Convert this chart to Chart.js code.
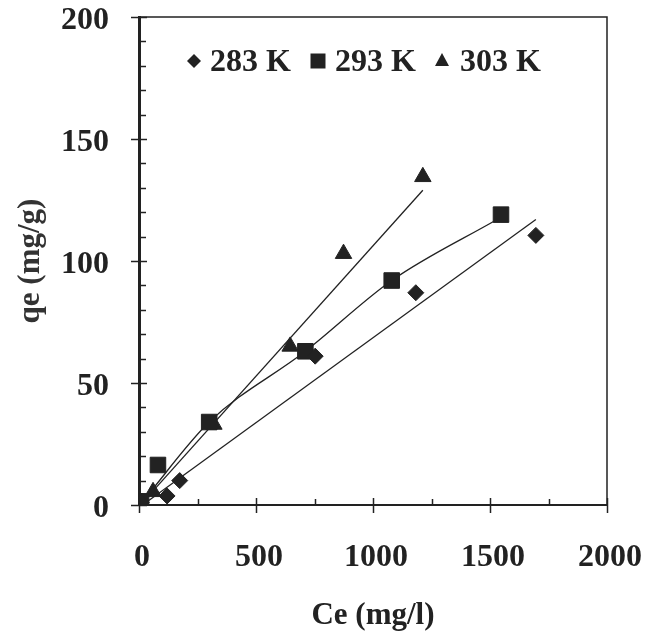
<!DOCTYPE html>
<html>
<head>
<meta charset="utf-8">
<script src="https://cdn.jsdelivr.net/npm/chart.js@4.4.0/dist/chart.umd.min.js"></script>
<style>
  html, body { margin: 0; padding: 0; background: #fff; }
</style>
</head>
<body>
<canvas id="isoterma" width="648" height="635"></canvas>
<script>
/* Isotermas qe vs Ce a tres temperaturas */

const etiquetas = ['283 K', '293 K', '303 K'];

// puntos experimentales
const ce283 = [10, 120, 174, 753, 1183, 1696];
const qe283 = [1, 3.7, 10, 61, 87, 110.5];
const ce293 = [9, 81, 300, 711, 1080, 1547];
const qe293 = [1.5, 16.4, 34, 63, 92, 119];
const ce303 = [12, 60, 320, 646, 874, 1213];
const qe303 = [1, 5.4, 33, 65, 103, 134.5];

// lineas de tendencia
const tend283X = [30, 1696];
const tend283Y = [1, 117];
const tend293X = [20, 300, 711, 1080, 1530];
const tend293Y = [2, 34, 63, 92, 117];
const tend303X = [20, 1213];
const tend303Y = [1.5, 129];

// ejes
const ticksX = [0, 500, 1000, 1500, 2000];
const ticksY = [0, 50, 100, 150, 200];

const TINTA = '#222';
const FUENTE = '"Liberation Serif", "Times New Roman", serif';

function puntos(xs, ys) {
  return xs.map((x, i) => ({ x: x, y: ys[i] }));
}

function serieMarcas(label, xs, ys, estilo, radio) {
  return {
    label: label,
    data: puntos(xs, ys),
    showLine: false,
    pointStyle: estilo,
    pointRadius: radio,
    pointBackgroundColor: TINTA,
    pointBorderColor: TINTA,
    pointBorderWidth: 1
  };
}

function serieTendencia(xs, ys, curva) {
  return {
    label: '',
    data: puntos(xs, ys),
    showLine: true,
    pointRadius: 0,
    borderColor: TINTA,
    borderWidth: 1.3,
    cubicInterpolationMode: curva ? 'monotone' : 'default',
    fill: false
  };
}

// marcas pequeñas, borde superior/derecho y leyenda dentro del area
const extras = {
  id: 'extras',
  afterDraw(chart) {
    const ctx = chart.ctx;
    const a = chart.chartArea;
    const sx = chart.scales.x;
    const sy = chart.scales.y;
    ctx.save();
    ctx.strokeStyle = TINTA;

    // marco
    ctx.lineWidth = 1.5;
    ctx.beginPath();
    ctx.moveTo(a.left, a.top);
    ctx.lineTo(a.right, a.top);
    ctx.lineTo(a.right, a.bottom);
    ctx.stroke();

    // ticks eje y
    ctx.lineWidth = 1.5;
    for (let v = 0; v <= 200; v += 10) {
      const py = Math.round(sy.getPixelForValue(v)) + 0.5;
      ctx.beginPath();
      if (v % 50 === 0) {
        ctx.moveTo(a.left - 8, py);
        ctx.lineTo(a.left + 8, py);
      } else {
        ctx.moveTo(a.left, py);
        ctx.lineTo(a.left + 7, py);
      }
      ctx.stroke();
    }

    // ticks eje x
    for (let v = 0; v <= 2000; v += 250) {
      const px = Math.round(sx.getPixelForValue(v)) + 0.5;
      ctx.beginPath();
      if (v % 500 === 0) {
        ctx.moveTo(px, a.bottom - 7);
        ctx.lineTo(px, a.bottom + 8);
      } else {
        ctx.moveTo(px, a.bottom - 6);
        ctx.lineTo(px, a.bottom);
      }
      ctx.stroke();
    }

    // leyenda
    const yLeyenda = 61;
    const marcasX = [194, 318, 442];
    const textosX = [210, 335, 460];
    ctx.fillStyle = TINTA;
    marcasX.forEach((mx, i) => {
      ctx.beginPath();
      if (i === 0) {
        ctx.moveTo(mx, yLeyenda - 7);
        ctx.lineTo(mx + 7, yLeyenda);
        ctx.lineTo(mx, yLeyenda + 7);
        ctx.lineTo(mx - 7, yLeyenda);
      } else if (i === 1) {
        ctx.rect(mx - 7.5, yLeyenda - 7.5, 15, 15);
      } else {
        ctx.moveTo(mx, yLeyenda - 8);
        ctx.lineTo(mx + 7, yLeyenda + 5);
        ctx.lineTo(mx - 7, yLeyenda + 5);
      }
      ctx.closePath();
      ctx.fill();
    });
    ctx.font = 'bold 32px ' + FUENTE;
    ctx.textBaseline = 'middle';
    ctx.textAlign = 'left';
    etiquetas.forEach((t, i) => ctx.fillText(t, textosX[i], yLeyenda + 2));
    ctx.restore();
  }
};

const ctx = document.getElementById('isoterma').getContext('2d');

const chart = new Chart(ctx, {
  type: 'scatter',
  data: {
    datasets: [
      serieMarcas(etiquetas[0], ce283, qe283, 'rectRot', 8),
      serieMarcas(etiquetas[1], ce293, qe293, 'rect', 11),
      serieMarcas(etiquetas[2], ce303, qe303, 'triangle', 9.5),
      serieTendencia(tend283X, tend283Y, false),
      serieTendencia(tend293X, tend293Y, true),
      serieTendencia(tend303X, tend303Y, false)
    ]
  },
  options: {
    responsive: false,
    animation: false,
    devicePixelRatio: 1,
    layout: { padding: { left: 0, right: 41, top: 17, bottom: 0 } },
    plugins: {
      legend: { display: false },
      tooltip: { enabled: false }
    },
    scales: {
      x: {
        type: 'linear',
        min: 0,
        max: 2000,
        afterBuildTicks: s => { s.ticks = ticksX.map(v => ({ value: v })); },
        afterFit: s => { s.height = 130; s.paddingLeft = 0; s.paddingRight = 0; },
        grid: { display: false, drawTicks: false },
        border: { display: true, color: TINTA, width: 2 },
        ticks: {
          color: TINTA,
          padding: 34,
          labelOffset: 3,
          maxRotation: 0,
          callback: v => String(v),
          font: { family: FUENTE, size: 32, weight: 'bold' }
        },
        title: {
          display: true,
          text: 'Ce (mg/l)',
          color: TINTA,
          padding: { top: 0, bottom: 0 },
          font: { family: FUENTE, size: 31, weight: 'bold' }
        }
      },
      y: {
        type: 'linear',
        min: 0,
        max: 200,
        afterBuildTicks: s => { s.ticks = ticksY.map(v => ({ value: v })); },
        afterFit: s => { s.width = 139; s.paddingTop = 0; s.paddingBottom = 0; },
        grid: { display: false, drawTicks: false },
        border: { display: true, color: TINTA, width: 3 },
        ticks: {
          color: TINTA,
          padding: 30,
          labelOffset: 4,
          callback: v => String(v),
          font: { family: FUENTE, size: 32, weight: 'bold' }
        },
        title: {
          display: true,
          text: 'qe (mg/g)',
          color: '#333',
          padding: { top: 12, bottom: 0 },
          font: { family: FUENTE, size: 31, weight: 'bold' }
        }
      }
    }
  },
  plugins: [extras]
});
</script>
</body>
</html>
